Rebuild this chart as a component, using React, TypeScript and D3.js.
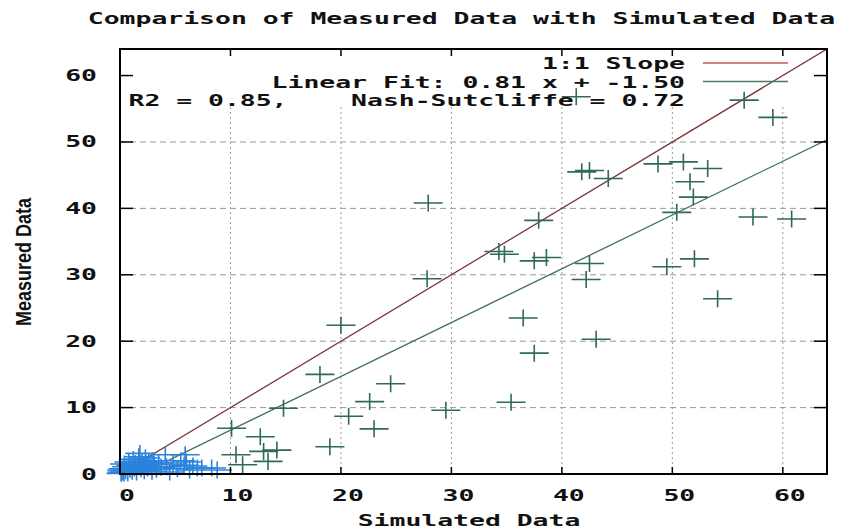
import React from "react";
import * as d3 from "d3";

const title = "Comparison of Measured Data with Simulated Data";
const xLabel = "Simulated Data";
const yLabel = "Measured Data";
const xTicks = [0, 10, 20, 30, 40, 50, 60];
const yTicks = [0, 10, 20, 30, 40, 50, 60];
const fitSlope = 0.81;
const fitIntercept = -1.5;
const legendRows = ["1:1 Slope", "Linear Fit: 0.81 x + -1.50", "R2 = 0.85,    Nash-Sutcliffe = 0.72"];

// green series (larger values): [simulated, measured]
const greenPoints: [number, number][] = [
  [41.3, 56.8], [56.5, 56.3], [59.1, 53.7], [41.8, 45.5], [42.5, 45.7], [44.2, 44.5],
  [48.7, 46.7], [51.0, 47.0], [53.2, 46.0], [51.6, 44.0], [51.9, 41.7], [50.4, 39.4],
  [57.3, 38.7], [60.8, 38.4], [37.9, 38.2], [34.3, 33.5], [34.8, 33.1], [37.5, 32.1],
  [38.6, 32.6], [42.5, 31.7], [42.2, 29.3], [49.5, 31.2], [52.0, 32.4], [54.1, 26.4],
  [36.5, 23.5], [43.1, 20.3], [37.5, 18.2], [35.4, 10.8], [27.9, 40.8], [27.8, 29.4],
  [20.0, 22.4], [18.1, 15.0], [24.5, 13.6], [22.6, 10.9], [20.7, 8.7], [29.5, 9.6],
  [23.0, 6.8], [14.8, 9.9], [19.0, 4.1], [10.1, 6.9], [12.7, 5.6], [10.5, 2.9],
  [13.0, 3.4], [14.2, 3.6], [13.4, 1.9], [11.1, 1.4],
];

// blue series (small values)
const bluePoints: [number, number][] = [
  [0.1, 0.1], [0.2, 0.3], [0.35, 0.15], [0.15, 0.6], [0.3, 0.8], [0.4, 1.5], [0.5, 0.5],
  [0.6, 1.1], [0.7, 0.2], [0.8, 1.8], [0.9, 0.7], [1.0, 1.3], [1.1, 0.4], [1.2, 2.2],
  [1.3, 0.9], [1.4, 1.6], [1.5, 0.3], [1.6, 1.1], [1.7, 2.6], [1.8, 3.1], [1.9, 0.8],
  [2.0, 1.9], [2.1, 1.2], [2.2, 0.5], [2.3, 2.4], [2.4, 1.5], [2.5, 0.9], [2.6, 1.8],
  [2.8, 1.1], [2.9, 0.4], [3.0, 2.0], [3.1, 1.4], [3.3, 0.7], [3.5, 1.7], [3.7, 1.0],
  [4.1, 2.9], [4.2, 1.1], [4.5, 0.3], [4.8, 1.5], [5.2, 0.8], [5.5, 2.0], [5.8, 1.3],
  [5.9, 2.9], [6.0, 1.8], [6.3, 0.6], [6.6, 1.2], [7.0, 0.9], [7.4, 0.9], [8.3, 0.9],
  [8.8, 0.6],
];

const W = 854;
const H = 529;
const CW = 15.9; // stretched char width
const MONO = "'DejaVu Sans Mono', monospace";

export default function App() {
  const x = d3.scaleLinear().domain([0, 64]).range([120, 827]);
  const y = d3.scaleLinear().domain([0, 64]).range([474, 49]);
  const [x0, x1] = x.range();
  const [y0, y1] = y.range();

  const line = d3.line<[number, number]>().x((d) => x(d[0])).y((d) => y(d[1]));
  const oneToOne: [number, number][] = [[0, 0], [64, 64]];
  const fit: [number, number][] = [[0, fitIntercept], [64, fitSlope * 64 + fitIntercept]];

  const cross = (p: [number, number], color: string, i: number) => {
    const cx = x(p[0]);
    const cy = y(p[1]);
    return (
      <path
        key={i}
        d={`M${cx - 14.5},${cy}H${cx + 14.5}M${cx},${cy - 8.5}V${cy + 8.5}`}
        stroke={color}
        strokeWidth={1.6}
        fill="none"
      />
    );
  };

  const monoText = (s: string, props: any, key?: any) => (
    <text
      key={key}
      {...props}
      textLength={s.length * CW}
      lengthAdjust="spacingAndGlyphs"
      style={{ whiteSpace: "pre" }}
      fontFamily={MONO}
      fontWeight="bold"
    >
      {s}
    </text>
  );

  const legendRight = 685;

  return (
    <svg width={W} height={H} style={{ position: "absolute", left: 0, top: 0, background: "#fff" }}>
      <rect x={0} y={0} width={W} height={H} fill="#fff" />
      <defs>
        <clipPath id="plotClip">
          <rect x={x0} y={y1} width={x1 - x0} height={y0 - y1} />
        </clipPath>
      </defs>

      {/* grid */}
      {yTicks.filter((t) => t > 0).map((t) => (
        <line key={"gy" + t} x1={x0} x2={x1} y1={y(t)} y2={y(t)} stroke="#999" strokeWidth={1} strokeDasharray="6,4" />
      ))}
      {xTicks.filter((t) => t > 0).map((t) => (
        <line key={"gx" + t} x1={x(t)} x2={x(t)} y1={y0} y2={y1} stroke="#999" strokeWidth={1} strokeDasharray="2,3" />
      ))}

      {/* opaque key area */}
      <rect x={x0 + 1} y={y1 + 1} width={x1 - x0 - 2} height={56} fill="#fff" />

      {/* lines */}
      <g clipPath="url(#plotClip)">
        <path d={line(oneToOne) || ""} stroke="#7a3838" strokeWidth={1.3} fill="none" />
        <path d={line(fit) || ""} stroke="#3f6e5e" strokeWidth={1.3} fill="none" />
      </g>

      {/* points */}
      {greenPoints.map((p, i) => cross(p, "#2e6a55", i))}
      {bluePoints.map((p, i) => cross(p, "#2a82dc", 1000 + i))}

      {/* border & ticks */}
      <rect x={x0} y={y1} width={x1 - x0} height={y0 - y1} fill="none" stroke="#000" strokeWidth={2} />
      {xTicks.map((t) => (
        <g key={"xt" + t}>
          <line x1={x(t)} x2={x(t)} y1={y0} y2={y0 - 7} stroke="#000" strokeWidth={1.5} />
          <line x1={x(t)} x2={x(t)} y1={y1} y2={y1 + 7} stroke="#000" strokeWidth={1.5} />
        </g>
      ))}
      {yTicks.map((t) => (
        <g key={"yt" + t}>
          <line x1={x0} x2={x0 + 13} y1={y(t)} y2={y(t)} stroke="#000" strokeWidth={1.5} />
          <line x1={x1} x2={x1 - 13} y1={y(t)} y2={y(t)} stroke="#000" strokeWidth={1.5} />
        </g>
      ))}

      {/* tick labels */}
      {xTicks.map((t) => {
        const s = String(t);
        return monoText(s, { x: x(t) + 7 - (s.length * CW) / 2, y: 501, fontSize: 15, fill: "#111" }, "xl" + t);
      })}
      {yTicks.map((t) => {
        const s = String(t);
        return monoText(s, { x: 97 - s.length * CW, y: y(t) + 5.5, fontSize: 15, fill: "#111" }, "yl" + t);
      })}

      {/* legend */}
      {legendRows.map((s, i) =>
        monoText(s, { x: legendRight - s.length * CW, y: 69 + i * 18.5, fontSize: 16, fill: "#111" }, "lg" + i)
      )}
      <line x1={703} x2={788} y1={63} y2={63} stroke="#c25a5a" strokeWidth={1.3} />
      <line x1={703} x2={788} y1={81.5} y2={81.5} stroke="#4a7a6a" strokeWidth={1.3} />

      {/* titles */}
      {monoText(title, { x: 468.5 - (title.length * 16.2) / 2, y: 24, fontSize: 16, fill: "#111" }, "title")}
      {monoText(xLabel, { x: 469 - (xLabel.length * CW) / 2, y: 526, fontSize: 16, fill: "#111" }, "xlab")}
      <g transform="translate(23,262) scale(1.6,1) rotate(-90)">
        <text
          x={0}
          y={0}
          textAnchor="middle"
          dominantBaseline="central"
          fontFamily="'Liberation Sans', Arial, sans-serif"
          fontWeight="bold"
          fontSize={14}
          textLength={128}
          lengthAdjust="spacingAndGlyphs"
          fill="#111"
        >
          {yLabel}
        </text>
      </g>
    </svg>
  );
}
